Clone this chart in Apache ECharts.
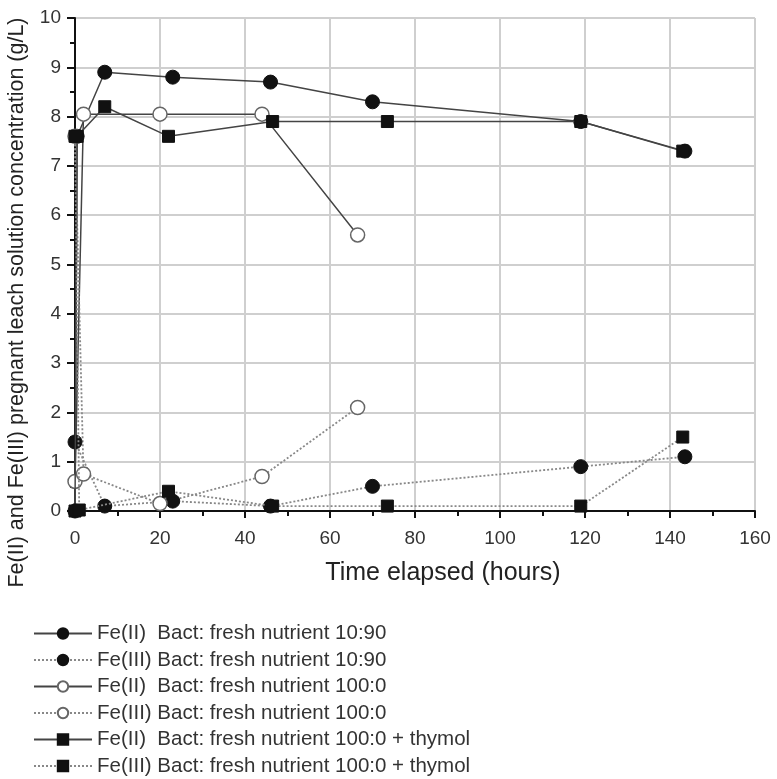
<!DOCTYPE html>
<html><head><meta charset="utf-8">
<script src="https://cdn.jsdelivr.net/npm/echarts@6/dist/echarts.min.js"></script>
<style>html,body{margin:0;padding:0;background:#fff}#c{width:777px;height:779px}</style>
</head><body><div id="c"></div>
<script>
// Data: [time (h), concentration (g/L)]
var fe2_1090 = [[0,0],[0.5,7.6],[7,8.9],[23,8.8],[46,8.7],[70,8.3],[119,7.9],[143.5,7.3]];
var fe3_1090 = [[0,1.4],[7,0.1],[23,0.2],[46,0.1],[70,0.5],[119,0.9],[143.5,1.1]];
var fe2_1000 = [[0,0.6],[2,8.05],[20,8.05],[44,8.05],[66.5,5.6]];
var fe3_1000 = [[0,7.6],[2,0.75],[20,0.15],[44,0.7],[66.5,2.1]];
var fe2_thy = [[0,0],[0.5,7.6],[7,8.2],[22,7.6],[46.5,7.9],[73.5,7.9],[119,7.9],[143,7.3]];
var fe3_thy = [[0,7.6],[1,0.02],[22,0.4],[46.5,0.1],[73.5,0.1],[119,0.1],[143,1.5]];
var names = [
  'Fe(II)  Bact: fresh nutrient 10:90',
  'Fe(III) Bact: fresh nutrient 10:90',
  'Fe(II)  Bact: fresh nutrient 100:0',
  'Fe(III) Bact: fresh nutrient 100:0',
  'Fe(II)  Bact: fresh nutrient 100:0 + thymol',
  'Fe(III) Bact: fresh nutrient 100:0 + thymol'
];
var xTicks = [0,20,40,60,80,100,120,140,160];
var yTicks = [0,1,2,3,4,5,6,7,8,9,10];

var solid = {color:'#444', width:1.5, type:'solid'};
var dotted = {color:'#888', width:1.8, type:[2,2]};
var filled = {color:'#111', borderColor:'#111', borderWidth:1};
var open = {color:'#fff', borderColor:'#666', borderWidth:1.5};

function mk(name, data, line, sym, size, item){
  return {name:name, type:'line', data:data, symbol:sym, symbolSize:size,
    lineStyle:line, itemStyle:item, showAllSymbol:true, animation:false, z: sym==='rect'?4:3};
}
var series = [
  mk(names[0], fe2_1090, solid, 'circle', 14, filled),
  mk(names[1], fe3_1090, dotted, 'circle', 14, filled),
  mk(names[2], fe2_1000, solid, 'circle', 14, open),
  mk(names[3], fe3_1000, dotted, 'circle', 14, open),
  mk(names[4], fe2_thy, solid, 'rect', 12, filled),
  mk(names[5], fe3_thy, dotted, 'rect', 12, filled)
];
var chart = echarts.init(document.getElementById('c'), null, {renderer:'canvas'});
chart.setOption({
  backgroundColor:'#fff',
  animation:false,
  grid:{left:75, right:22, top:18, bottom:268, containLabel:false, outerBoundsMode:'none'},
  xAxis:{type:'value', min:xTicks[0], max:xTicks[xTicks.length-1], interval:20,
    name:'Time elapsed (hours)', nameLocation:'middle', nameGap:50,
    nameTextStyle:{fontSize:25, color:'#222', fontFamily:'Liberation Sans', padding:[0,0,0,56]},
    axisLine:{show:true, onZero:false, lineStyle:{color:'#111', width:2}},
    axisTick:{show:true, inside:false, length:7, lineStyle:{color:'#111', width:2}},
    minorTick:{show:true, splitNumber:2, length:5, lineStyle:{color:'#111', width:2}},
    axisLabel:{fontSize:19, color:'#333', margin:18, fontFamily:'Liberation Sans'},
    splitLine:{show:true, lineStyle:{color:'#cfcfcf', width:2}}
  },
  yAxis:{type:'value', min:yTicks[0], max:yTicks[yTicks.length-1], interval:1,
    name:'Fe(II) and Fe(III) pregnant leach solution concentration (g/L)', nameLocation:'middle', nameGap:47,
    nameTextStyle:{fontSize:21.5, color:'#222', fontFamily:'Liberation Sans', padding:[0,76,0,0]},
    axisLine:{show:true, onZero:false, lineStyle:{color:'#111', width:2}},
    axisTick:{show:true, inside:false, length:8, lineStyle:{color:'#111', width:2}},
    minorTick:{show:true, splitNumber:2, length:5, lineStyle:{color:'#111', width:2}},
    axisLabel:{fontSize:19, color:'#333', margin:14, fontFamily:'Liberation Sans'},
    splitLine:{show:true, lineStyle:{color:'#cfcfcf', width:2}}
  },
  legend:{orient:'vertical', left:28, top:618, height:200, itemWidth:58, itemHeight:13, itemGap:5.5,
    data:names, textStyle:{fontSize:20.5, color:'#333', fontFamily:'Liberation Sans'},
    selectedMode:false},
  series:series
});
</script></body></html>
